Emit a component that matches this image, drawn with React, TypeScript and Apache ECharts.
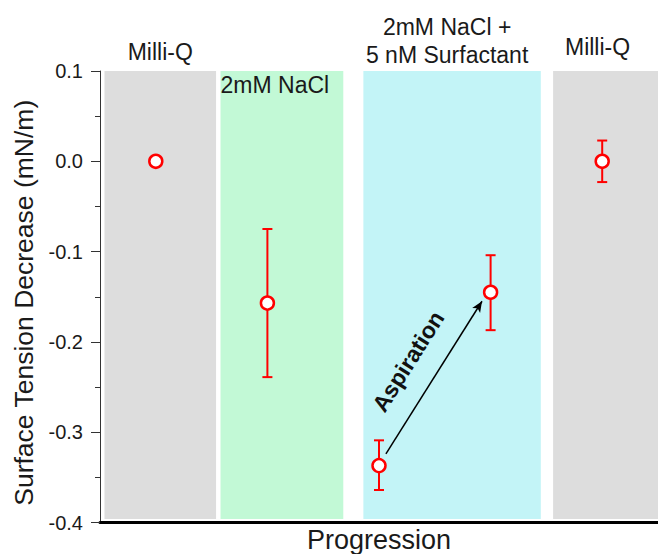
import React, { useEffect, useRef } from "react";
import * as echarts from "echarts";

// ---- data ----
const xPositions = [1, 2, 3, 4, 5];
const meanValues = [0, -0.157, -0.337, -0.145, 0];
const errLower = [0, -0.239, -0.364, -0.187, -0.023];
const errUpper = [0, -0.075, -0.309, -0.104, 0.023];

const bandLabels = ["Milli-Q", "2mM NaCl", "2mM NaCl +\n5 nM Surfactant", "Milli-Q"];
const bandStart = [0.54, 1.58, 2.86, 4.56];
const bandEnd = [1.54, 2.68, 4.45, 5.5];
const bandTop = 0.1;
const bandBottom = -0.396;

const arrowStart = [3.062, -0.324];
const arrowEnd = [3.923, -0.155];
const arrowLabel = "Aspiration";

const yTicks = { min: -0.4, max: 0.1, interval: 0.1 };
const xRange = { min: 0.5, max: 5.5 };

const FONT = "'Liberation Sans', Arial, Helvetica, sans-serif";
const bandColors = ["#DDDDDD", "#C2F9D6", "#C3F4F7", "#DDDDDD"];
const bandLabelStyles: any[] = [
  { position: "top", distance: 6.5, offset: [0, 0], lineHeight: 26 },
  { position: "insideTopLeft", distance: 1, offset: [-1, 0], lineHeight: 26 },
  { position: "top", distance: 1.5, offset: [-5, 0], lineHeight: 28.5 },
  { position: "top", distance: 11, offset: [-8, 0], lineHeight: 26 },
];

export default function App() {
  const ref = useRef<HTMLDivElement>(null);
  useEffect(() => {
    if (!ref.current) return;
    const chart = echarts.init(ref.current, null, { renderer: "svg" });

    const markAreaData = bandLabels.map((lab, i) => [
      {
        name: lab,
        xAxis: bandStart[i],
        yAxis: bandTop,
        itemStyle: { color: bandColors[i] },
        label: {
          show: true,
          formatter: lab,
          fontSize: 23,
          fontFamily: FONT,
          color: "#1a1a1a",
          align: i === 1 ? "left" : "center",
          ...bandLabelStyles[i],
        },
      },
      { xAxis: bandEnd[i], yAxis: bandBottom },
    ]);

    chart.setOption({
      animation: false,
      grid: { left: 100, right: 0, top: 71, bottom: 31.5, containLabel: false, outerBoundsMode: "none" },
      xAxis: {
        type: "value",
        min: xRange.min,
        max: xRange.max,
        axisLine: { show: true, onZero: false, lineStyle: { color: "#000", width: 3 } },
        axisTick: { show: false },
        axisLabel: { show: false },
        splitLine: { show: false },
        name: "Progression",
        nameLocation: "middle",
        nameGap: 4,
        nameTextStyle: { fontSize: 27, color: "#1a1a1a", fontFamily: FONT },
      },
      yAxis: {
        type: "value",
        min: yTicks.min,
        max: yTicks.max,
        interval: yTicks.interval,
        axisLine: { show: true, lineStyle: { color: "#333", width: 1 } },
        axisTick: { show: true, length: 9, lineStyle: { color: "#333" } },
        minorTick: { show: true, splitNumber: 2, length: 5, lineStyle: { color: "#333" } },
        splitLine: { show: false },
        minorSplitLine: { show: false },
        axisLabel: {
          fontSize: 20,
          color: "#1a1a1a",
          fontFamily: FONT,
          margin: 17,
          formatter: (v: number) => (Math.abs(v) < 1e-9 ? "0.0" : v.toFixed(1)),
        },
        name: "Surface Tension Decrease (mN/m)",
        nameLocation: "middle",
        nameGap: 61,
        nameTextStyle: { fontSize: 26.5, color: "#1a1a1a", fontFamily: FONT, padding: [0, 12, 0, 0] },
      },
      series: [
        {
          type: "custom",
          z: 3,
          data: xPositions.map((x, i) => [x, errLower[i], errUpper[i]]),
          encode: { x: 0, y: [1, 2] },
          renderItem: (params: any, api: any) => {
            const x = api.value(0);
            const lo = api.value(1);
            const hi = api.value(2);
            if (lo === hi) return { type: "group", children: [] };
            const pLo = api.coord([x, lo]);
            const pHi = api.coord([x, hi]);
            const hw = 5;
            const style = { stroke: "#FF0000", lineWidth: 2 };
            return {
              type: "group",
              children: [
                { type: "line", shape: { x1: pLo[0], y1: pLo[1], x2: pHi[0], y2: pHi[1] }, style },
                { type: "line", shape: { x1: pLo[0] - hw, y1: pLo[1], x2: pLo[0] + hw, y2: pLo[1] }, style },
                { type: "line", shape: { x1: pHi[0] - hw, y1: pHi[1], x2: pHi[0] + hw, y2: pHi[1] }, style },
              ],
            };
          },
          markArea: {
            silent: true,
            data: markAreaData,
          },
        },
        {
          type: "scatter",
          z: 4,
          data: xPositions.map((x, i) => [x, meanValues[i]]),
          symbol: "circle",
          symbolSize: 13,
          itemStyle: { color: "#FFFFFF", borderColor: "#FF0000", borderWidth: 2.5, opacity: 1 },
          markLine: {
            silent: true,
            symbol: ["none", "arrow"],
            symbolSize: [7, 11],
            lineStyle: { color: "#000", width: 1.5, type: "solid" },
            label: {
              show: true,
              position: "middle",
              formatter: arrowLabel,
              fontSize: 23,
              fontWeight: "bold",
              fontFamily: FONT,
              color: "#111",
              distance: 19,
            },
            data: [[{ coord: arrowStart }, { coord: arrowEnd }]],
          },
        },
      ],
    });
    return () => chart.dispose();
  }, []);
  return (
    <div
      ref={ref}
      style={{ position: "fixed", left: 0, top: 0, width: 658, height: 554, background: "#fff" }}
    />
  );
}
